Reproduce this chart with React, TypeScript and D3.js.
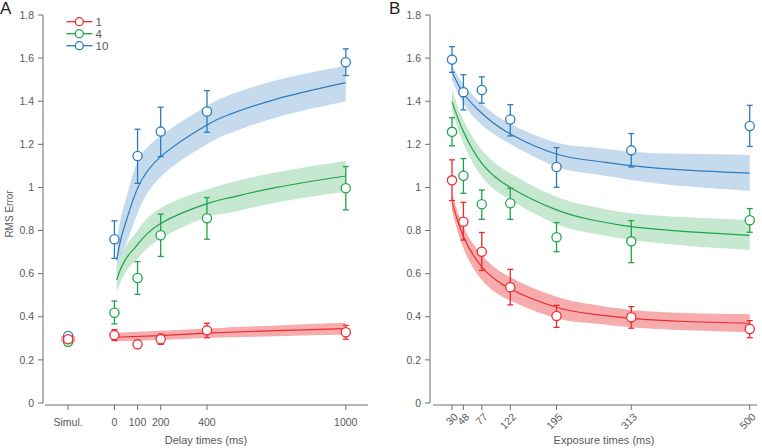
import * as d3 from 'd3';

// ---- data ----
const setSizes = ['1', '4', '10'];
const colors = ['#ed2b30', '#1ea44b', '#2c7bbd'];
const bandColors = ['#f6a6a8', '#c3e6ce', '#c2d8eb'];

const yTicks = [0, 0.2, 0.4, 0.6, 0.8, 1, 1.2, 1.4, 1.6, 1.8];

// Panel A: delay times
const delayTicks = [0, 100, 200, 400, 1000];
const simulPos = -200; // where the "Simul." column sits on the delay axis
// [mean, lo, hi] for the simultaneous condition
const simulPoints = [
  [0.296, 0.285, 0.307],
  [0.284, 0.272, 0.296],
  [0.311, 0.3, 0.322],
];
// [delay, mean, lo, hi]
const delayPoints = [
  [[0, 0.315, 0.29, 0.34], [100, 0.272, 0.255, 0.29], [200, 0.296, 0.272, 0.32], [400, 0.337, 0.303, 0.37], [1000, 0.328, 0.296, 0.36]],
  [[0, 0.419, 0.367, 0.473], [100, 0.58, 0.504, 0.656], [200, 0.778, 0.68, 0.876], [400, 0.857, 0.76, 0.953], [1000, 0.996, 0.896, 1.097]],
  [[0, 0.76, 0.671, 0.845], [100, 1.146, 1.019, 1.27], [200, 1.259, 1.143, 1.372], [400, 1.352, 1.256, 1.449], [1000, 1.581, 1.519, 1.643]],
];
// model fit [delay, mean, lo, hi]
const delayFits = [
  [[0, 0.305, 0.285, 0.325], [200, 0.313, 0.293, 0.335], [400, 0.324, 0.302, 0.346], [700, 0.336, 0.31, 0.36], [1000, 0.345, 0.318, 0.372]],
  [[10, 0.571, 0.516, 0.632], [30, 0.63, 0.57, 0.69], [60, 0.685, 0.625, 0.745], [100, 0.735, 0.67, 0.8], [200, 0.833, 0.763, 0.905], [400, 0.925, 0.862, 0.99], [500, 0.953, 0.883, 1.022], [700, 1.0, 0.93, 1.07], [1000, 1.053, 0.98, 1.124]],
  [[10, 0.664, 0.6, 0.75], [30, 0.77, 0.68, 0.87], [60, 0.875, 0.765, 0.985], [100, 0.996, 0.88, 1.12], [200, 1.143, 1.05, 1.24], [400, 1.29, 1.2, 1.378], [500, 1.34, 1.252, 1.43], [700, 1.41, 1.325, 1.497], [1000, 1.486, 1.4, 1.564]],
];
const simulRedBand = [0.282, 0.31];

// Panel B: exposure times
const exposureTicks = [30, 48, 77, 122, 195, 313, 500];
const exposurePoints = [
  [[30, 1.033, 0.939, 1.128], [48, 0.841, 0.756, 0.931], [77, 0.702, 0.615, 0.791], [122, 0.537, 0.455, 0.62], [195, 0.404, 0.351, 0.453], [313, 0.398, 0.347, 0.447], [500, 0.343, 0.303, 0.382]],
  [[30, 1.258, 1.193, 1.324], [48, 1.054, 0.973, 1.134], [77, 0.922, 0.852, 0.988], [122, 0.927, 0.852, 0.996], [195, 0.769, 0.702, 0.837], [313, 0.75, 0.651, 0.846], [500, 0.848, 0.792, 0.902]],
  [[30, 1.593, 1.534, 1.653], [48, 1.442, 1.36, 1.523], [77, 1.452, 1.391, 1.513], [122, 1.315, 1.239, 1.384], [195, 1.095, 1.001, 1.185], [313, 1.172, 1.095, 1.25], [500, 1.285, 1.19, 1.381]],
];
const exposureFits = [
  [[30, 0.934, 0.892, 0.975], [48, 0.772, 0.718, 0.818], [77, 0.632, 0.571, 0.687], [122, 0.53, 0.475, 0.583], [195, 0.444, 0.393, 0.493], [250, 0.413, 0.37, 0.458], [313, 0.393, 0.351, 0.432], [400, 0.378, 0.337, 0.418], [500, 0.37, 0.328, 0.412]],
  [[30, 1.398, 1.352, 1.452], [48, 1.259, 1.205, 1.313], [77, 1.112, 1.05, 1.174], [122, 1.0, 0.942, 1.066], [195, 0.896, 0.83, 0.957], [250, 0.85, 0.787, 0.913], [313, 0.818, 0.756, 0.88], [400, 0.795, 0.73, 0.862], [500, 0.778, 0.71, 0.849]],
  [[30, 1.537, 1.499, 1.568], [48, 1.437, 1.391, 1.478], [77, 1.344, 1.29, 1.39], [122, 1.248, 1.202, 1.295], [195, 1.155, 1.097, 1.208], [250, 1.125, 1.063, 1.186], [313, 1.101, 1.035, 1.166], [400, 1.08, 1.005, 1.156], [500, 1.066, 0.984, 1.151]],
];

const axisColor = '#6d6e71';
const textColor = '#58595b';
const font = 'Liberation Sans, Arial, sans-serif';

const y = d3.scaleLinear().domain([0, 1.8]).range([403, 15]);
const xA = d3.scaleLinear().domain([-300, 1096]).range([45, 368]);
const xB = d3.scaleLinear().domain([0, 511]).range([433, 756.7]);
const fmt = (d: number) => String(+d.toFixed(1));

function YAxis({ x0 }: { x0: number }) {
  return (
    <g>
      <line x1={x0} x2={x0} y1={y(1.8)} y2={y(0)} stroke={axisColor} />
      {yTicks.map((t) => (
        <g key={t}>
          <line x1={x0 - 5} x2={x0} y1={y(t)} y2={y(t)} stroke={axisColor} />
          <text x={x0 - 9} y={y(t)} dy="0.35em" textAnchor="end" fontSize={10.5} fill={textColor}>
            {fmt(t)}
          </text>
        </g>
      ))}
    </g>
  );
}

function Series({ x, fit, i }: { x: d3.ScaleLinear<number, number>; fit: number[][]; i: number }) {
  const area = d3.area<number[]>().x((d) => x(d[0])).y0((d) => y(d[2])).y1((d) => y(d[3])).curve(d3.curveNatural);
  const line = d3.line<number[]>().x((d) => x(d[0])).y((d) => y(d[1])).curve(d3.curveNatural);
  return (
    <g>
      <path d={area(fit) || ''} fill={bandColors[i]} opacity={0.95} />
      <path d={line(fit) || ''} fill="none" stroke={colors[i]} strokeWidth={1.2} />
    </g>
  );
}

function Points({ x, pts, i }: { x: d3.ScaleLinear<number, number>; pts: number[][]; i: number }) {
  return (
    <g stroke={colors[i]} strokeWidth={1.3}>
      {pts.map((d) => (
        <g key={d[0]}>
          <line x1={x(d[0])} x2={x(d[0])} y1={y(d[2])} y2={y(d[3])} />
          <line x1={x(d[0]) - 3} x2={x(d[0]) + 3} y1={y(d[2])} y2={y(d[2])} />
          <line x1={x(d[0]) - 3} x2={x(d[0]) + 3} y1={y(d[3])} y2={y(d[3])} />
          <circle cx={x(d[0])} cy={y(d[1])} r={4.6} fill="#fff" />
        </g>
      ))}
    </g>
  );
}

export default function App() {
  const order = [2, 1, 0];
  return (
    <svg width={762} height={448} style={{ position: 'absolute', left: 0, top: 0, background: '#fff' }} fontFamily={font}>
      {/* panel labels */}
      <text x={0} y={13.5} fontSize={17} fill="#231f20">A</text>
      <text x={389} y={13.5} fontSize={17} fill="#231f20">B</text>

      {/* ---- Panel A ---- */}
      <YAxis x0={43} />
      <line x1={45} x2={368} y1={405} y2={405} stroke={axisColor} />
      {[simulPos, ...delayTicks].map((t) => (
        <g key={t}>
          <line x1={xA(t)} x2={xA(t)} y1={405} y2={410} stroke={axisColor} />
          <text x={xA(t)} y={426} textAnchor="middle" fontSize={10.5} fill={textColor}>
            {t === simulPos ? 'Simul.' : t}
          </text>
        </g>
      ))}
      <text x={206} y={444} textAnchor="middle" fontSize={11} fill={textColor}>Delay times (ms)</text>
      <text transform="translate(13,214) rotate(-90)" textAnchor="middle" fontSize={10} fill={textColor}>RMS Error</text>

      <rect x={xA(simulPos) - 7} width={14} y={y(simulRedBand[1])} height={y(simulRedBand[0]) - y(simulRedBand[1])} fill={bandColors[0]} />
      {order.map((i) => (
        <Series key={i} x={xA} fit={delayFits[i]} i={i} />
      ))}
      {order.map((i) => (
        <Points key={i} x={xA} pts={[[simulPos, ...simulPoints[i]], ...delayPoints[i]]} i={i} />
      ))}

      {/* legend */}
      {setSizes.map((s, i) => (
        <g key={s} transform={`translate(0,${21.7 + i * 12})`}>
          <line x1={66.5} x2={92.5} y1={0} y2={0} stroke={colors[i]} strokeWidth={1.3} />
          <circle cx={79.3} cy={0} r={4} fill="#fff" stroke={colors[i]} strokeWidth={1.3} />
          <text x={95.5} y={0} dy="0.35em" fontSize={11.5} fill={textColor}>{s}</text>
        </g>
      ))}

      {/* ---- Panel B ---- */}
      <YAxis x0={430} />
      <line x1={433} x2={757} y1={405} y2={405} stroke={axisColor} />
      {exposureTicks.map((t) => (
        <g key={t}>
          <line x1={xB(t)} x2={xB(t)} y1={405} y2={410} stroke={axisColor} />
          <text transform={`translate(${xB(t) + 4},${415}) rotate(-45)`} textAnchor="end" dy="0.35em" fontSize={10.5} fill={textColor}>
            {t}
          </text>
        </g>
      ))}
      <text x={604} y={444} textAnchor="middle" fontSize={11} fill={textColor}>Exposure times (ms)</text>

      {order.map((i) => (
        <Series key={i} x={xB} fit={exposureFits[i]} i={i} />
      ))}
      {order.map((i) => (
        <Points key={i} x={xB} pts={exposurePoints[i]} i={i} />
      ))}
    </svg>
  );
}
